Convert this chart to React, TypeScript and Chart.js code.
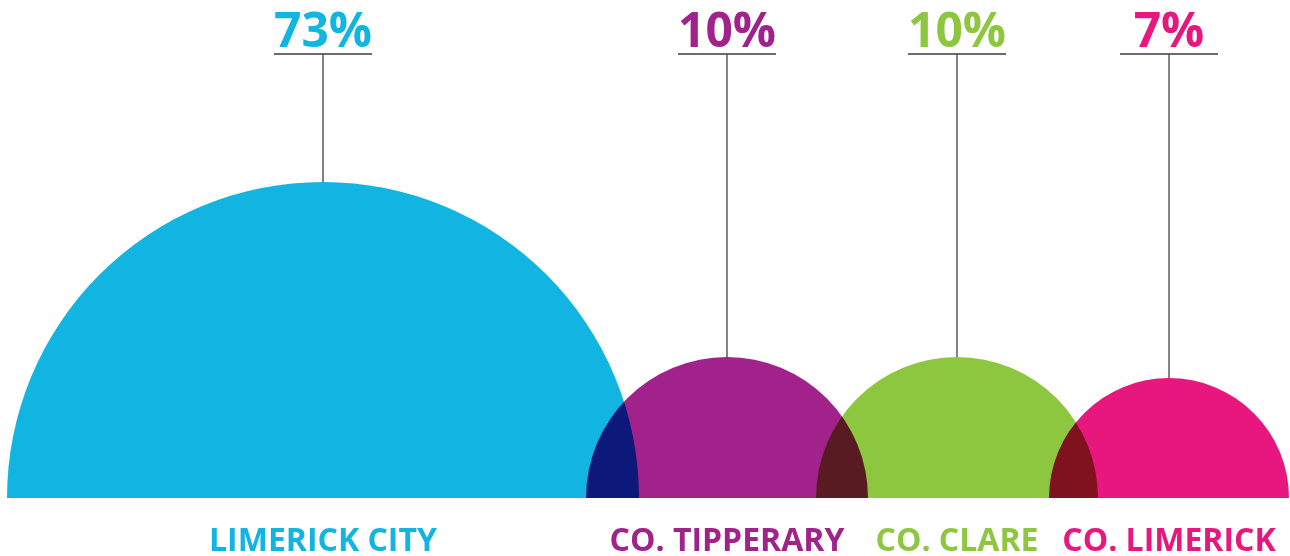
import React, { useEffect, useRef } from "react";
import { Chart, registerables } from "chart.js";

Chart.register(...registerables);

const categories = ["LIMERICK CITY", "CO. TIPPERARY", "CO. CLARE", "CO. LIMERICK"];
const shares = [73, 10, 10, 7];
const centers = [323, 727, 957, 1169];
const radii = [316, 141, 141, 120];
const colors = ["#12b5e1", "#a0228a", "#8dc63f", "#e8177d"];

const FONT = "'Open Sans', sans-serif";

const multiplyPlugin = {
  id: "multiply",
  beforeDatasetsDraw(chart: any) {
    chart.ctx.save();
    chart.ctx.globalCompositeOperation = "multiply";
  },
  afterDatasetsDraw(chart: any) {
    chart.ctx.restore();
  },
};

const labelsPlugin = {
  id: "labels",
  afterDraw(chart: any) {
    const ctx = chart.ctx as CanvasRenderingContext2D;
    const xs = chart.scales.x;
    const ys = chart.scales.y;
    const base = ys.getPixelForValue(0);
    ctx.save();
    categories.forEach((cat, i) => {
      const cx = xs.getPixelForValue(centers[i]);
      const rpx = Math.abs(xs.getPixelForValue(radii[i]) - xs.getPixelForValue(0));
      const top = base - rpx;
      ctx.fillStyle = colors[i];
      ctx.font = `700 48px ${FONT}`;
      ctx.textAlign = "center";
      ctx.textBaseline = "alphabetic";
      ctx.fillText(`${shares[i]}%`, cx, 47);
      ctx.strokeStyle = "#6b6b6b";
      ctx.lineWidth = 2;
      ctx.beginPath();
      ctx.moveTo(cx - 49, 54);
      ctx.lineTo(cx + 49, 54);
      ctx.stroke();
      ctx.strokeStyle = "#5a5a5a";
      ctx.lineWidth = 1.5;
      ctx.beginPath();
      ctx.moveTo(cx, 54);
      ctx.lineTo(cx, top);
      ctx.stroke();
      ctx.font = `700 32px ${FONT}`;
      ctx.fillText(cat, cx, 551);
    });
    ctx.restore();
  },
};

export default function App() {
  const ref = useRef<HTMLCanvasElement>(null);
  useEffect(() => {
    document.body.style.margin = "0";
    const chart = new Chart(ref.current!, {
      type: "bubble",
      data: {
        datasets: [
          {
            data: centers.map((c, i) => ({ x: c, y: 0, r: radii[i] })),
            backgroundColor: colors,
            hoverBackgroundColor: colors,
            borderWidth: 0,
            hoverBorderWidth: 0,
            clip: 0,
          } as any,
        ],
      },
      options: {
        responsive: false,
        animation: false,
        layout: { autoPadding: false, padding: { left: 0, right: 0, top: 0, bottom: 58 } },
        scales: {
          x: { type: "linear", min: 0, max: 1290, display: false },
          y: { type: "linear", min: 0, max: 498, display: false },
        },
        plugins: { legend: { display: false }, tooltip: { enabled: false } },
      } as any,
      plugins: [multiplyPlugin, labelsPlugin],
    });
    return () => chart.destroy();
  }, []);
  return <canvas ref={ref} width={1290} height={556} style={{ display: "block" }} />;
}
